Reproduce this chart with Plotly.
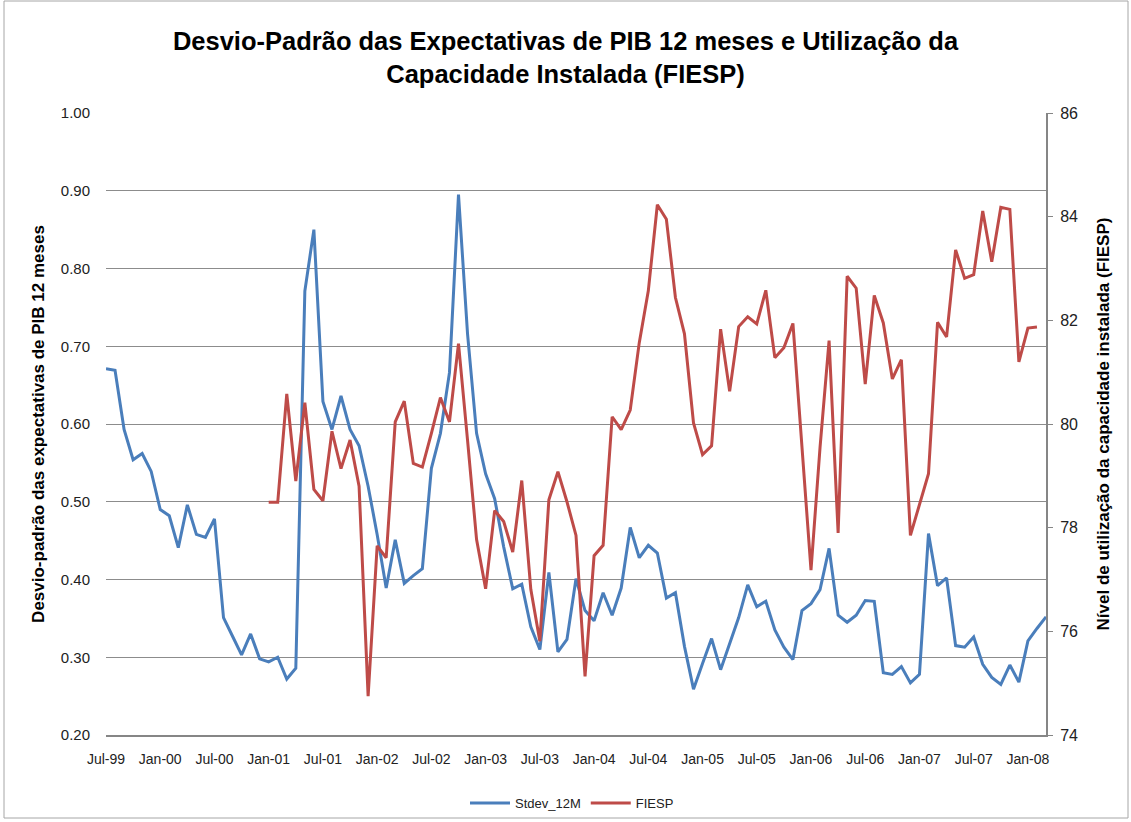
import plotly.graph_objects as go
import pandas as pd

# Monthly categories Jul-99 .. Mar-08
months = [d.strftime("%b-%y") for d in pd.date_range("1999-07-01", "2008-03-01", freq="MS")]

stdev_12m = [
    0.671, 0.669, 0.593, 0.554, 0.562, 0.539, 0.490, 0.482, 0.441, 0.496,
    0.458, 0.454, 0.478, 0.351, 0.327, 0.303, 0.330, 0.298, 0.294, 0.300,
    0.272, 0.286, 0.771, 0.850, 0.629, 0.593, 0.636, 0.593, 0.572, 0.520,
    0.458, 0.389, 0.451, 0.395, 0.405, 0.414, 0.543, 0.588, 0.666, 0.895,
    0.716, 0.588, 0.536, 0.504, 0.442, 0.388, 0.394, 0.339, 0.310, 0.409,
    0.307, 0.323, 0.401, 0.360, 0.347, 0.383, 0.354, 0.389, 0.467, 0.428,
    0.444, 0.434, 0.376, 0.383, 0.314, 0.259, 0.292, 0.324, 0.284, 0.319,
    0.351, 0.393, 0.365, 0.372, 0.335, 0.313, 0.297, 0.360, 0.369, 0.387,
    0.440, 0.354, 0.345, 0.354, 0.373, 0.372, 0.280, 0.278, 0.288, 0.267,
    0.278, 0.459, 0.392, 0.402, 0.315, 0.313, 0.326, 0.291, 0.274, 0.265,
    0.290, 0.268, 0.321, 0.337, 0.352,
]

fiesp = [None] * 18 + [
    78.49, 78.49, 80.58, 78.90, 80.41, 78.74, 78.52, 79.86, 79.14, 79.69,
    78.80, 74.75, 77.65, 77.42, 80.04, 80.44, 79.24, 79.17, 79.82, 80.51,
    80.04, 81.55, 79.69, 77.77, 76.82, 78.33, 78.12, 77.53, 78.91, 76.81,
    75.81, 78.54, 79.08, 78.50, 77.85, 75.13, 77.46, 77.66, 80.14, 79.89,
    80.27, 81.57, 82.57, 84.23, 83.95, 82.44, 81.74, 80.02, 79.41, 79.58,
    81.83, 80.63, 81.88, 82.07, 81.93, 82.58, 81.28, 81.47, 81.94, 79.55,
    77.18, 79.55, 81.61, 77.90, 82.85, 82.62, 80.77, 82.48, 81.95, 80.87,
    81.24, 77.85, 78.45, 79.04, 81.96, 81.68, 83.36, 82.81, 82.88, 84.11,
    83.13, 84.18, 84.14, 81.20, 81.85, 81.87, None,
]

tick_labels = months[::6]

W, H = 1131, 822
L, R, T, B = 106, 1046, 113, 735

fig = go.Figure()
fig.add_trace(go.Scatter(x=months, y=stdev_12m, name="Stdev_12M", mode="lines",
                         line=dict(color="#4A7EBB", width=3)))
fig.add_trace(go.Scatter(x=months, y=fiesp, name="FIESP", mode="lines", yaxis="y2",
                         line=dict(color="#BE4B48", width=3), connectgaps=False))

font = "Liberation Sans, Arial, sans-serif"

def px_x(p):
    return (p - L) / (R - L)

def px_y(p):
    return (B - p) / (B - T)

fig.update_layout(
    width=W, height=H,
    margin=dict(l=L, r=W - R, t=T, b=H - B, autoexpand=False),
    paper_bgcolor="white", plot_bgcolor="white",
    font=dict(family=font, size=13, color="#222"),
    title=dict(
        text="<b>Desvio-Padrão das Expectativas de PIB 12 meses e Utilização da<br>Capacidade Instalada (FIESP)</b>",
        x=0.5, xanchor="center", y=1 - 50 / H, yanchor="top",
        font=dict(family=font, size=25.5, color="#000"),
    ),
    xaxis=dict(
        type="category", range=[0, len(months) - 1], automargin=False,
        tickmode="array", tickvals=tick_labels, ticktext=tick_labels,
        showgrid=False, showline=True, linecolor="#868686", linewidth=2,
        ticks="outside", ticklen=10, tickcolor="rgba(0,0,0,0)",
        tickfont=dict(size=14, color="#222"), zeroline=False,
    ),
    yaxis=dict(
        range=[0.2, 1.0], dtick=0.1, tick0=0.2, tickformat=".2f", automargin=False,
        showgrid=True, gridcolor="#8C8C8C", gridwidth=1,
        showline=False, zeroline=False,
        ticks="outside", ticklen=12, tickcolor="rgba(0,0,0,0)",
        tickfont=dict(size=15, color="#222"),
        title=dict(text="<b>Desvio-padrão das expectativas de PIB 12 meses</b>",
                   font=dict(family=font, size=17, color="#000"), standoff=11),
    ),
    yaxis2=dict(
        range=[74, 86], dtick=2, overlaying="y", side="right", automargin=False,
        showgrid=False, showline=True, linecolor="#868686", linewidth=2,
        zeroline=False, ticks="outside", ticklen=5, tickcolor="#868686",
        tickfont=dict(size=16, color="#222"), ticklabelstandoff=4,
        title=dict(text="<b>Nível de utilização da capacidade instalada (FIESP)</b>",
                   font=dict(family=font, size=17, color="#000"), standoff=20),
    ),
    legend=dict(orientation="h", x=px_x(572), xanchor="center", y=px_y(803), yanchor="middle",
                font=dict(size=13, color="#222"), itemwidth=40, bgcolor="rgba(0,0,0,0)"),
    showlegend=True,
)

fig.add_shape(type="rect", xref="paper", yref="paper",
              x0=px_x(4), x1=px_x(1128), y0=px_y(818), y1=px_y(1),
              line=dict(color="#A6A6A6", width=1), fillcolor="rgba(0,0,0,0)", layer="below")

fig.write_html(
    "out.html",
    config={"displayModeBar": False},
    post_script="document.body.style.margin='0';document.documentElement.style.overflow='hidden';",
)
